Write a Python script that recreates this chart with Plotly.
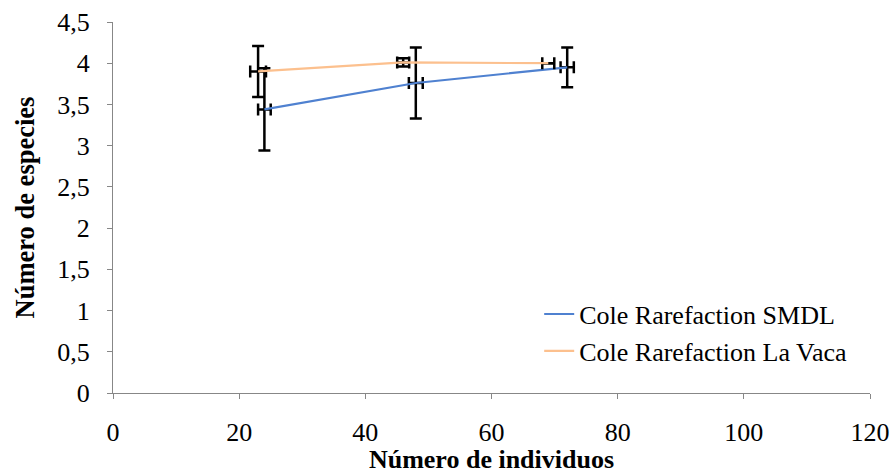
import plotly.graph_objects as go

# Data
smdl_x = [24, 48, 72]
smdl_y = [3.44, 3.76, 3.95]
smdl_yerr = [0.50, 0.43, 0.24]
smdl_xerr = [1.0, 1.1, 1.05]

vaca_x = [23, 46, 69]
vaca_y = [3.90, 4.01, 4.00]
vaca_yerr = [0.31, 0.05, 0.0]
vaca_xerr = [1.25, 0.95, 0.95]

x_ticks = [0, 20, 40, 60, 80, 100, 120]
y_ticks = [0, 0.5, 1, 1.5, 2, 2.5, 3, 3.5, 4, 4.5]

FONT = "Liberation Serif, Times New Roman, serif"

fig = go.Figure()
fig.add_trace(go.Scatter(
    x=smdl_x, y=smdl_y, mode="lines", name="Cole Rarefaction SMDL",
    line=dict(color="#4f81d0", width=2.2),
    error_y=dict(type="data", array=smdl_yerr, color="black", thickness=2.5, width=6),
    error_x=dict(type="data", array=smdl_xerr, color="black", thickness=2.5, width=6),
    legendgroup="a",
))
fig.add_trace(go.Scatter(
    x=vaca_x, y=vaca_y, mode="lines", name="Cole Rarefaction La Vaca",
    line=dict(color="#fcc08e", width=2.2),
    error_y=dict(type="data", array=vaca_yerr, color="black", thickness=2.5, width=6),
    error_x=dict(type="data", array=vaca_xerr, color="black", thickness=2.5, width=6),
    legendgroup="b",
))

fig.update_layout(
    width=892, height=474,
    margin=dict(l=113, r=22, t=22, b=81, autoexpand=False),
    paper_bgcolor="white", plot_bgcolor="white",
    separators=", ",
    font=dict(family=FONT, size=26, color="black"),
    showlegend=True,
    legend=dict(x=0.563, y=0.276, xanchor="left", yanchor="top",
                bgcolor="rgba(0,0,0,0)", font=dict(size=26, family=FONT),
                traceorder="grouped", tracegroupgap=0),
    xaxis=dict(
        range=[0, 120], tickvals=x_ticks, showgrid=False, zeroline=False,
        showline=True, linecolor="#878787", linewidth=1.3,
        ticks="outside", ticklen=5, tickcolor="#878787",
        tickfont=dict(size=26, family=FONT), ticklabelstandoff=11,
        automargin=False,
        title=dict(text="<b>Número de individuos</b>", standoff=2,
                   font=dict(size=26, family=FONT)),
    ),
    yaxis=dict(
        range=[0, 4.5], tickvals=y_ticks, showgrid=False, zeroline=False,
        showline=True, linecolor="#878787", linewidth=1.3,
        ticks="outside", ticklen=5, tickcolor="#878787",
        tickfont=dict(size=26, family=FONT), ticklabelstandoff=12,
        automargin=False,
        title=dict(text="<b>Número de especies</b>", standoff=14,
                   font=dict(size=26.5, family=FONT)),
    ),
)

fig.write_html(
    "out.html",
    config={"displayModeBar": False},
    post_script="document.body.style.margin='0';document.body.style.overflow='hidden';",
)
